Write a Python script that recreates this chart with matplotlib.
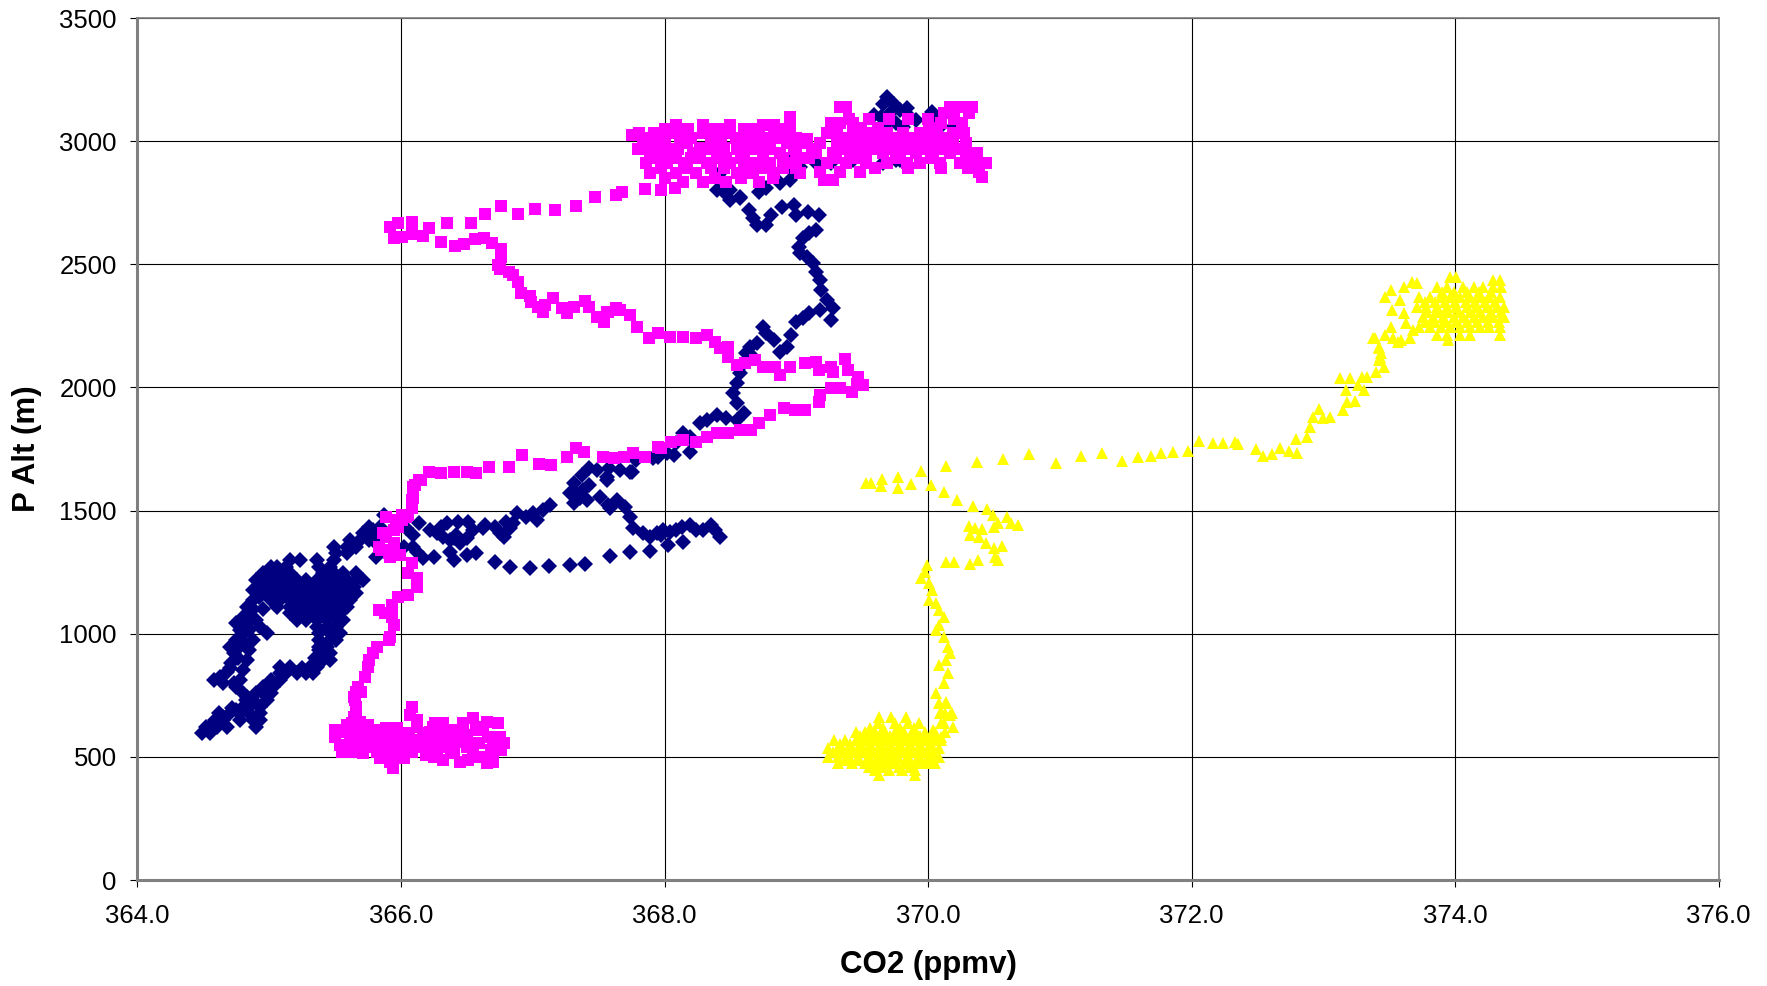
import matplotlib.pyplot as plt

plt.rcParams['font.family'] = ['Liberation Sans', 'DejaVu Sans']

# CO2 (ppmv), pressure altitude (m), one list per profile
navy = [
    # lower-left blob
    (364.49, 596), (364.52, 623), (364.55, 596), (364.55, 623), (364.59, 650), (364.60, 623),
    (364.65, 663), (364.65, 650), (364.68, 623), (364.70, 677), (364.75, 690), (364.78, 677),
    (364.78, 650), (364.80, 704), (364.85, 704), (364.85, 677), (364.88, 650), (364.90, 623),
    (364.93, 677), (364.93, 650), (364.93, 704), (364.88, 731), (364.98, 731), (364.90, 758),
    (364.95, 758), (365.01, 758), (364.95, 785), (365.01, 785), (365.03, 785), (365.01, 812),
    (365.08, 812), (365.08, 839), (365.13, 839), (365.21, 839), (365.28, 839), (365.33, 839),
    (365.08, 866), (365.16, 866), (365.31, 866), (365.36, 866), (365.41, 893), (365.46, 893),
    (365.41, 920), (365.46, 920), (365.38, 934), (365.44, 947), (365.38, 947), (365.38, 974),
    (365.46, 974), (365.51, 974), (365.38, 1002), (365.46, 1002), (365.54, 1002),
    (364.58, 812), (364.63, 826), (364.68, 846), (364.71, 880), (364.73, 920), (364.70, 947),
    (364.75, 974), (364.78, 1015), (364.75, 1042), (364.80, 1069), (364.85, 1083), (364.83, 1110),
    (364.88, 1137), (364.88, 1178), (364.93, 1205), (364.98, 1245), (365.01, 1272),
    (364.78, 812), (364.80, 853), (364.83, 893), (364.85, 934), (364.88, 974), (364.85, 1015),
    (364.93, 1029), (364.98, 1002), (364.90, 1056), (364.75, 785), (364.80, 758), (364.73, 800),
    (364.83, 744),
    (364.65, 800), (364.70, 860), (364.76, 900), (364.78, 950), (364.80, 1000), (364.83, 1040),
    (364.88, 1100), (364.92, 1150), (364.95, 1100), (364.82, 960), (364.62, 680), (364.72, 700),
    (364.82, 730), (364.98, 760), (365.25, 860), (365.40, 960), (365.50, 1000), (365.35, 900),
    (365.06, 1272), (365.13, 1272), (365.38, 1272), (365.46, 1272),
    (365.16, 1299), (365.23, 1299), (365.36, 1299), (365.49, 1299),
    (365.51, 1326), (365.59, 1326), (365.49, 1353), (365.59, 1353), (365.66, 1353),
    (365.61, 1380), (365.69, 1380), (365.76, 1380), (365.71, 1408), (365.79, 1408),
    (365.76, 1435), (365.84, 1435),
    (364.95, 1245), (365.03, 1245), (365.11, 1245), (365.16, 1245), (365.41, 1245),
    (365.49, 1245), (365.56, 1245), (365.66, 1245),
    (364.90, 1218), (364.98, 1218), (365.06, 1218), (365.13, 1218), (365.21, 1218), (365.28, 1218),
    (365.36, 1218), (365.44, 1218), (365.51, 1218), (365.59, 1218), (365.66, 1218), (365.71, 1218),
    (364.95, 1191), (365.03, 1191), (365.11, 1191), (365.18, 1191), (365.26, 1191), (365.33, 1191),
    (365.41, 1191), (365.49, 1191), (365.56, 1191), (365.64, 1191),
    (364.98, 1164), (365.06, 1164), (365.13, 1164), (365.21, 1164), (365.28, 1164), (365.36, 1164),
    (365.44, 1164), (365.51, 1164), (365.59, 1164), (365.66, 1164),
    (365.01, 1137), (365.08, 1137), (365.16, 1137), (365.23, 1137), (365.31, 1137), (365.38, 1137),
    (365.46, 1137), (365.54, 1137), (365.61, 1137),
    (365.06, 1110), (365.16, 1110), (365.21, 1110), (365.28, 1110), (365.36, 1110), (365.44, 1110),
    (365.51, 1110), (365.59, 1110),
    (365.16, 1083), (365.23, 1083), (365.31, 1083), (365.38, 1083), (365.46, 1083), (365.54, 1083),
    (365.21, 1056), (365.28, 1056), (365.36, 1056), (365.44, 1056), (365.51, 1056), (365.56, 1056),
    (365.36, 1029), (365.44, 1029), (365.51, 1029),
    # the loops around 1300-1500 m
    (365.87, 1482), (365.79, 1421), (365.79, 1380), (365.81, 1313),
    (366.04, 1428), (366.14, 1448), (366.22, 1421), (366.30, 1435), (366.35, 1448), (366.43, 1455),
    (366.51, 1455), (366.55, 1421), (366.64, 1441), (366.71, 1435), (366.80, 1455), (366.88, 1489),
    (366.95, 1475), (367.00, 1489), (367.03, 1462), (367.08, 1502), (367.13, 1523),
    (366.09, 1401), (366.27, 1408), (366.32, 1394), (366.40, 1387), (366.45, 1367), (366.50, 1387),
    (366.37, 1380), (366.42, 1401), (366.62, 1428), (366.75, 1408), (366.78, 1394), (366.83, 1428),
    (366.85, 1448),
    (366.02, 1353), (366.09, 1353), (366.12, 1333), (366.17, 1306), (366.25, 1313), (366.37, 1333),
    (366.40, 1299), (366.50, 1320), (366.57, 1326),
    (366.71, 1292), (366.83, 1272), (366.98, 1265), (367.12, 1275), (367.28, 1279), (367.40, 1283),
    (367.59, 1316), (367.74, 1333), (367.89, 1337), (368.03, 1360), (368.14, 1374),
    (367.76, 1428), (367.84, 1408), (367.89, 1394), (367.94, 1408), (367.97, 1401), (367.99, 1421),
    (368.04, 1414), (368.09, 1421), (368.13, 1435), (368.19, 1441), (368.24, 1421), (368.29, 1421),
    (368.35, 1441), (368.38, 1421), (368.42, 1394),
    (367.51, 1556), (367.57, 1523), (367.64, 1543), (367.70, 1516), (367.74, 1475), (367.59, 1509),
    (367.31, 1611), (367.33, 1570), (367.31, 1529), (367.38, 1584), (367.43, 1604), (367.41, 1543),
    (367.36, 1550), (367.28, 1570), (367.56, 1624), (367.37, 1644), (367.43, 1671), (367.49, 1665),
    (367.58, 1671), (367.66, 1665), (367.75, 1658), (367.78, 1705), (367.95, 1719), (368.07, 1726),
    (368.19, 1739),
    # climb to the top
    (367.56, 1638), (367.74, 1658), (367.91, 1712), (368.02, 1732), (368.09, 1773), (368.14, 1814),
    (368.19, 1800), (368.27, 1854), (368.32, 1868), (368.40, 1888), (368.47, 1874), (368.55, 1868),
    (368.60, 1895), (368.55, 1935), (368.52, 1976), (368.55, 2017), (368.57, 2057), (368.60, 2098),
    (368.62, 2138), (368.65, 2165), (368.70, 2179), (368.67, 2125), (368.75, 2247), (368.77, 2220),
    (368.83, 2193), (368.88, 2145), (368.93, 2165), (368.96, 2213), (369.00, 2267), (369.05, 2281),
    (369.10, 2301), (369.18, 2314), (369.26, 2274), (369.28, 2321), (369.23, 2355), (369.19, 2396),
    (369.18, 2436), (369.15, 2470), (369.13, 2504), (369.08, 2531), (369.03, 2544), (369.02, 2571),
    (369.05, 2605), (369.10, 2626), (369.15, 2639), (369.17, 2700), (369.09, 2714), (369.00, 2700),
    (368.98, 2741), (368.89, 2734), (368.81, 2700), (368.77, 2659), (368.70, 2659), (368.67, 2687),
    (368.64, 2720), (368.57, 2768), (368.50, 2761), (368.45, 2795), (368.40, 2802), (368.41, 2856),
    (368.42, 2869), (368.50, 2802), (368.57, 2775), (368.72, 2795), (368.77, 2808), (368.88, 2829),
    (368.95, 2842), (368.98, 2883), (368.95, 2923), (369.03, 2896), (369.15, 2910), (369.26, 2910),
    (369.43, 2923), (369.66, 2910), (369.76, 2923), (369.79, 2923),
    # top blob
    (369.69, 3181), (369.66, 3153), (369.74, 3153), (369.59, 3106), (369.64, 3099), (369.71, 3113),
    (369.79, 3126), (369.84, 3133), (369.86, 3099), (369.69, 3072), (369.76, 3072), (369.64, 3059),
    (369.81, 3059), (369.91, 3086), (370.03, 3120), (370.07, 3086), (370.09, 3059), (370.19, 3059),
]

magenta = [
    # bottom cluster
    (365.66, 765), (365.70, 765), (365.65, 731), (365.66, 690), (365.65, 656), (365.69, 643),
    (365.50, 609), (365.50, 582), (365.54, 548), (365.55, 521), (365.59, 629), (365.63, 595),
    (365.61, 555), (365.64, 521), (365.69, 609), (365.71, 568), (365.71, 514), (365.75, 629),
    (365.76, 582), (365.75, 541), (365.59, 528), (365.66, 568),
    (365.82, 609), (365.83, 568), (365.82, 521), (365.84, 494), (365.89, 616), (365.89, 568),
    (365.90, 521), (365.92, 480), (365.94, 453), (365.97, 616), (365.98, 568), (365.99, 521),
    (366.02, 494), (366.06, 595), (366.06, 548), (366.08, 521), (366.12, 623), (366.12, 568),
    (366.08, 704), (366.07, 670), (366.12, 650),
    (366.17, 595), (366.18, 548), (366.19, 507), (366.24, 623), (366.26, 575), (366.27, 528),
    (366.26, 636), (366.32, 636), (366.33, 589), (366.33, 541), (366.32, 487), (366.40, 609),
    (366.41, 562), (366.40, 514), (366.45, 480), (366.47, 636), (366.50, 589), (366.50, 541),
    (366.51, 487), (366.55, 656), (366.57, 609), (366.59, 555), (366.60, 501), (366.65, 474),
    (366.65, 643), (366.66, 582), (366.68, 528), (366.74, 636), (366.75, 582), (366.76, 528),
    (366.70, 480), (366.78, 555),
    (365.58, 600), (365.80, 590), (365.95, 590), (366.05, 570), (366.22, 600), (366.37, 575),
    (366.45, 610), (366.62, 620), (366.70, 560), (366.55, 520), (366.38, 520), (366.25, 500),
    (365.95, 500), (365.80, 540), (365.68, 540), (366.10, 540), (366.65, 500),
    # climb near 366
    (365.63, 636), (365.64, 663), (365.66, 704), (365.64, 744), (365.67, 785), (365.73, 826),
    (365.75, 866), (365.76, 893), (365.79, 920), (365.82, 947), (365.91, 975), (365.92, 988),
    (365.95, 1035), (365.93, 1069), (365.88, 1083), (365.83, 1096), (365.93, 1117), (365.98, 1150),
    (366.05, 1157), (366.12, 1191), (366.12, 1225), (366.05, 1245), (366.08, 1286), (365.99, 1320),
    (365.91, 1326), (365.85, 1340), (365.89, 1394), (365.95, 1421), (365.98, 1455), (366.04, 1475),
    (365.89, 1475), (365.96, 1462), (365.86, 1408), (365.83, 1353), (365.89, 1340), (365.95, 1367),
    (365.92, 1313), (365.98, 1435), (366.01, 1482),
    (366.08, 1509), (366.08, 1543), (366.09, 1597), (366.14, 1624), (366.01, 1462), (366.05, 1482),
    (366.08, 1516), (366.09, 1550), (366.09, 1577), (366.11, 1604), (366.15, 1624),
    # line towards 369.5 at 2000 m
    (366.21, 1658), (366.30, 1654), (366.40, 1658), (366.50, 1658), (366.57, 1651), (366.67, 1676),
    (366.82, 1676), (366.92, 1726), (367.05, 1689), (367.14, 1685), (367.26, 1719), (367.33, 1753),
    (367.39, 1739), (367.53, 1719), (367.62, 1712), (367.69, 1719), (367.76, 1732), (367.85, 1719),
    (367.95, 1759), (367.97, 1753), (368.05, 1780), (368.14, 1786), (368.24, 1780), (368.32, 1800),
    (368.40, 1814), (368.48, 1814), (368.57, 1827), (368.66, 1827), (368.72, 1854), (368.80, 1888),
    (368.91, 1915), (368.99, 1908), (369.07, 1908), (369.17, 1942), (369.18, 1969), (369.26, 1996),
    (369.33, 1996), (369.42, 1983), (369.46, 2016), (369.51, 2010), (369.47, 2044),
    # back to the left near 2100-2600 m
    (369.39, 2071), (369.37, 2114), (369.28, 2064), (369.26, 2084), (369.17, 2071), (369.15, 2104),
    (369.07, 2098), (368.95, 2084), (368.88, 2050), (368.84, 2084), (368.75, 2084), (368.69, 2111),
    (368.61, 2098), (368.55, 2091), (368.48, 2125), (368.48, 2165), (368.42, 2159), (368.38, 2186),
    (368.32, 2213), (368.24, 2199), (368.14, 2206), (368.04, 2206), (367.95, 2220), (367.88, 2199),
    (367.79, 2247), (367.74, 2294), (367.66, 2314), (367.56, 2308),
    (367.54, 2267), (367.49, 2285), (367.57, 2307), (367.63, 2321), (367.43, 2328), (367.40, 2352),
    (367.31, 2325), (367.26, 2303), (367.22, 2321), (367.15, 2362), (367.09, 2335), (367.08, 2308),
    (367.04, 2328), (366.99, 2348), (366.98, 2371), (366.91, 2382), (366.89, 2429), (366.85, 2456),
    (366.82, 2470), (366.75, 2479), (366.74, 2497), (366.76, 2531), (366.76, 2561), (366.69, 2588),
    (366.63, 2605), (366.56, 2601), (366.48, 2582), (366.41, 2576), (366.30, 2592), (366.17, 2615),
    (366.08, 2623), (366.01, 2609), (365.95, 2605),
    # up to the top cluster
    (365.92, 2653), (365.98, 2666), (366.08, 2673), (366.21, 2646), (366.35, 2666), (366.53, 2669),
    (366.64, 2703), (366.76, 2738), (366.89, 2703), (367.02, 2724), (367.17, 2720), (367.33, 2738),
    (367.47, 2772), (367.63, 2781), (367.68, 2795), (367.85, 2804), (367.97, 2802), (368.08, 2811),
    # top cluster
    (367.75, 3025), (367.81, 3032), (367.92, 3032), (368.09, 3032), (368.29, 3032), (368.50, 3032),
    (368.72, 3032), (368.83, 3032), (368.95, 3032),
    (367.86, 2991), (367.99, 2991), (368.17, 2991), (368.37, 2991), (368.55, 2991), (368.65, 2991),
    (368.78, 2991), (368.93, 2991), (369.05, 2991),
    (367.89, 2950), (368.04, 2950), (368.22, 2950), (368.42, 2950), (368.60, 2950), (368.75, 2950),
    (368.88, 2950), (369.00, 2950), (369.13, 2950),
    (367.86, 2910), (368.02, 2910), (368.17, 2910), (368.32, 2910), (368.50, 2910), (368.67, 2910),
    (368.80, 2910), (368.98, 2910),
    (367.89, 2869), (368.09, 2869), (368.24, 2869), (368.55, 2869), (368.67, 2869), (368.83, 2869),
    (369.03, 2869), (368.14, 2835), (368.29, 2835), (368.47, 2835), (368.72, 2835),
    (368.09, 3066), (368.29, 3066), (368.50, 3066), (368.75, 3066), (368.83, 3066), (368.95, 3066),
    (368.95, 3099),
    (367.95, 3010), (368.03, 2970), (368.12, 3012), (368.20, 2930), (368.27, 2972), (368.35, 3010),
    (368.40, 2930), (368.45, 2972), (368.62, 3012), (368.70, 2970), (368.86, 3012), (368.90, 2930),
    (369.08, 3010), (369.10, 2930), (368.38, 3050), (368.60, 3050), (368.90, 2890), (368.35, 2890),
    (367.84, 3012), (368.00, 3012), (368.20, 3012), (368.43, 3012), (368.54, 3012), (368.70, 3012),
    (368.78, 3012), (369.00, 3012), (367.80, 2970), (367.95, 2970), (368.10, 2970), (368.35, 2970),
    (368.55, 2970), (368.62, 2970), (368.80, 2970), (368.98, 2970), (369.12, 2970), (367.95, 2930),
    (368.09, 2930), (368.27, 2930), (368.47, 2930), (368.58, 2930), (368.75, 2930), (369.03, 2930),
    (368.00, 3050), (368.18, 3050), (368.45, 3050), (368.68, 3050), (368.88, 3050), (367.97, 2890),
    (368.15, 2890), (368.45, 2890), (368.60, 2890), (368.75, 2890), (369.00, 2890), (368.00, 2850),
    (368.38, 2850), (368.58, 2850), (368.82, 2850),
    (369.33, 3140), (369.38, 3140), (370.17, 3140), (370.24, 3140), (370.33, 3140), (370.12, 3113),
    (370.31, 3113), (369.26, 3072), (369.33, 3072), (369.43, 3072), (370.10, 3072), (370.26, 3072),
    (369.23, 3032), (369.31, 3032), (369.43, 3032), (369.56, 3032), (369.69, 3032), (369.81, 3032),
    (369.94, 3032), (370.07, 3032), (370.19, 3032), (370.27, 3032),
    (369.18, 2991), (369.31, 2991), (369.43, 2991), (369.56, 2991), (369.69, 2991), (369.81, 2991),
    (369.94, 2991), (370.07, 2991), (370.19, 2991), (370.29, 2991),
    (369.15, 2950), (369.28, 2950), (369.41, 2950), (369.53, 2950), (369.66, 2950), (369.79, 2950),
    (369.91, 2950), (370.04, 2950), (370.17, 2950), (370.29, 2950), (370.37, 2950),
    (369.23, 2910), (369.38, 2910), (369.53, 2910), (369.69, 2910), (369.84, 2910), (369.94, 2910),
    (370.09, 2910), (370.24, 2910), (370.39, 2910), (370.44, 2910),
    (369.18, 2876), (369.33, 2876), (369.48, 2876), (370.39, 2876), (370.41, 2856), (369.21, 2842),
    (369.28, 2842),
    (369.37, 3012), (369.50, 3012), (369.62, 3012), (369.75, 3012), (369.88, 3012), (370.00, 3012),
    (370.13, 3012), (369.35, 2970), (369.47, 2970), (369.60, 2970), (369.73, 2970), (369.86, 2970),
    (369.98, 2970), (370.11, 2970), (370.23, 2970), (370.33, 2930), (370.02, 2930), (369.76, 2930),
    (369.46, 2930), (369.30, 2930), (369.49, 3052), (369.62, 3052), (370.01, 3052),
    (369.40, 3090), (369.55, 3090), (369.70, 3090), (369.85, 3090), (370.00, 3090), (370.20, 3090),
    (369.60, 2890), (369.85, 2890), (370.10, 2890), (370.30, 2890),
]

yellow = [
    # bottom cluster
    (369.63, 663), (369.72, 663), (369.83, 663), (369.62, 636), (369.75, 636), (369.85, 636),
    (369.93, 636), (370.10, 636), (370.09, 677), (370.13, 677), (370.18, 677), (370.08, 717),
    (370.14, 717),
    (369.45, 602), (369.52, 602), (369.60, 602), (369.67, 602), (369.75, 602), (369.82, 602),
    (369.90, 602), (369.98, 602), (370.05, 602), (370.13, 602),
    (369.29, 569), (369.37, 569), (369.45, 569), (369.52, 569), (369.60, 569), (369.67, 569),
    (369.75, 569), (369.82, 569), (369.90, 569), (369.98, 569), (370.05, 569), (370.10, 569),
    (369.24, 535), (369.32, 535), (369.40, 535), (369.47, 535), (369.55, 535), (369.62, 535),
    (369.70, 535), (369.77, 535), (369.85, 535), (369.93, 535), (370.00, 535), (370.08, 535),
    (369.24, 501), (369.32, 501), (369.40, 501), (369.47, 501), (369.55, 501), (369.62, 501),
    (369.70, 501), (369.77, 501), (369.85, 501), (369.93, 501), (370.00, 501), (370.08, 501),
    (369.32, 474), (369.42, 474), (369.52, 474), (369.60, 474), (369.67, 474), (369.75, 474),
    (369.82, 474), (369.90, 474), (369.98, 474), (370.05, 474),
    (369.60, 447), (369.70, 447), (369.80, 447), (369.90, 447), (369.63, 426), (369.90, 426),
    (369.28, 518), (369.36, 518), (369.44, 518), (369.51, 518), (369.59, 518), (369.66, 518),
    (369.74, 518), (369.81, 518), (369.89, 518), (369.96, 518), (370.04, 518),
    (369.33, 552), (369.41, 552), (369.49, 552), (369.56, 552), (369.64, 552), (369.71, 552),
    (369.79, 552), (369.86, 552), (369.94, 552), (370.02, 552),
    (369.48, 585), (369.56, 585), (369.64, 585), (369.71, 585), (369.79, 585), (369.86, 585),
    (369.94, 585), (370.02, 585), (369.56, 619), (369.66, 619), (369.79, 619), (369.89, 619),
    (369.37, 488), (369.47, 488), (369.57, 488), (369.65, 488), (369.73, 488), (369.86, 488),
    (369.95, 488), (370.03, 488), (369.55, 460), (369.65, 460), (369.78, 460), (369.86, 460),
    # column near 370
    (370.10, 582), (370.04, 609), (370.19, 623), (370.12, 636), (370.17, 670), (370.10, 684),
    (370.14, 724), (370.06, 758), (370.12, 799), (370.15, 839), (370.08, 873), (370.14, 893),
    (370.17, 920), (370.15, 947), (370.12, 988), (370.06, 1015), (370.08, 1035), (370.12, 1069),
    (370.08, 1096), (370.06, 1123), (370.01, 1137), (370.03, 1178), (370.01, 1205), (369.95, 1225),
    (369.98, 1252), (369.99, 1279),
    # zigzag to the right and back
    (370.14, 1290), (370.20, 1291), (370.32, 1283), (370.38, 1299), (370.53, 1299), (370.51, 1313),
    (370.56, 1356), (370.50, 1349), (370.44, 1367), (370.39, 1391), (370.32, 1401), (370.31, 1437),
    (370.36, 1428), (370.41, 1424), (370.50, 1435), (370.53, 1451), (370.68, 1441), (370.63, 1448),
    (370.60, 1475), (370.49, 1482), (370.45, 1506), (370.34, 1520), (370.22, 1543), (370.12, 1574),
    (370.02, 1604), (369.87, 1607), (369.77, 1593), (369.64, 1600), (369.53, 1611), (369.57, 1611),
    (369.65, 1627), (369.77, 1638), (369.95, 1662), (370.14, 1682), (370.37, 1696), (370.57, 1709),
    # long leg to 373
    (370.77, 1730), (370.97, 1695), (371.16, 1722), (371.32, 1732), (371.47, 1703), (371.59, 1716),
    (371.69, 1722), (371.77, 1735), (371.86, 1736), (371.97, 1742), (372.06, 1784), (372.16, 1773),
    (372.24, 1773), (372.33, 1780), (372.35, 1770), (372.49, 1751), (372.54, 1722), (372.61, 1730),
    (372.67, 1754), (372.74, 1743), (372.80, 1735), (372.79, 1789), (372.88, 1797), (372.90, 1841),
    (372.92, 1881), (372.97, 1911), (373.00, 1875), (373.05, 1881), (373.15, 1908), (373.18, 1942),
    (373.24, 1946), (373.17, 1990), (373.13, 2037), (373.20, 2037), (373.26, 2010), (373.29, 2044),
    (373.31, 1990), (373.33, 2044), (373.40, 2064), (373.42, 2111), (373.46, 2084), (373.38, 2199),
    (373.42, 2165), (373.44, 2138), (373.47, 2213), (373.53, 2199), (373.57, 2186),
    # top cluster
    (373.39, 2199), (373.42, 2159), (373.43, 2125), (373.51, 2247), (373.59, 2193), (373.66, 2199),
    (373.47, 2368), (373.51, 2396), (373.52, 2314), (373.61, 2409), (373.67, 2429), (373.71, 2423),
    (373.58, 2355), (373.61, 2301), (373.63, 2260), (373.68, 2233),
    (373.96, 2450), (374.01, 2450), (374.29, 2436), (374.34, 2436),
    (373.86, 2409), (373.94, 2409), (374.06, 2409), (374.14, 2409), (374.21, 2409), (374.29, 2409),
    (374.35, 2409),
    (373.73, 2369), (373.81, 2369), (373.89, 2369), (373.96, 2369), (374.04, 2369), (374.11, 2369),
    (374.19, 2369), (374.26, 2369), (374.34, 2369),
    (373.71, 2328), (373.78, 2328), (373.86, 2328), (373.94, 2328), (374.01, 2328), (374.09, 2328),
    (374.16, 2328), (374.24, 2328), (374.32, 2328), (374.37, 2328),
    (373.76, 2287), (373.83, 2287), (373.91, 2287), (373.99, 2287), (374.06, 2287), (374.14, 2287),
    (374.21, 2287), (374.29, 2287), (374.37, 2287),
    (373.73, 2247), (373.81, 2247), (373.89, 2247), (373.96, 2247), (374.04, 2247), (374.11, 2247),
    (374.19, 2247), (374.26, 2247), (374.34, 2247),
    (373.86, 2213), (373.94, 2213), (374.04, 2213), (374.11, 2213), (374.34, 2213), (373.95, 2193),
    (373.77, 2348), (373.85, 2348), (373.92, 2348), (374.00, 2348), (374.08, 2348), (374.15, 2348),
    (374.23, 2348), (374.30, 2348), (373.79, 2308), (373.87, 2308), (373.95, 2308), (374.03, 2308),
    (374.11, 2308), (374.19, 2308), (374.27, 2308), (374.35, 2308), (373.77, 2267), (373.85, 2267),
    (373.93, 2267), (374.01, 2267), (374.09, 2267), (374.17, 2267), (374.25, 2267), (374.33, 2267),
    (373.90, 2389), (373.99, 2389), (374.09, 2389), (374.18, 2389), (374.27, 2389),
]

x_ticks = [364.0, 366.0, 368.0, 370.0, 372.0, 374.0, 376.0]
y_ticks = [0, 500, 1000, 1500, 2000, 2500, 3000, 3500]

fig = plt.figure(figsize=(17.67, 9.86), dpi=100)
ax = fig.add_axes([0.0778, 0.1075, 0.8948, 0.8742])

# same drawing order as the original series
for pts, marker, colour, size in [(navy, 'D', '#000080', 8.4),
                                  (magenta, 's', '#FF00FF', 8.2),
                                  (yellow, '^', '#FFFF00', 9.2)]:
    xs, ys = zip(*pts)
    ax.plot(xs, ys, linestyle='none', marker=marker, color=colour,
            markersize=size, markeredgewidth=0)

ax.set_xlim(364, 376)
ax.set_ylim(0, 3500)
ax.set_xticks(x_ticks)
ax.set_xticklabels([f'{v:.1f}' for v in x_ticks])
ax.set_yticks(y_ticks)
ax.set_yticklabels([str(v) for v in y_ticks])
ax.tick_params(direction='out', length=5, width=0.8, labelsize=18.5)
ax.tick_params(axis='x', pad=12)
ax.tick_params(axis='y', pad=10)

ax.grid(True, color='black', linewidth=0.8)
ax.set_axisbelow(True)
for side in ['left', 'bottom']:
    ax.spines[side].set_color('#808080')
    ax.spines[side].set_linewidth(2.2)
for side in ['top', 'right']:
    ax.spines[side].set_color('#808080')
    ax.spines[side].set_linewidth(1.2)

ax.set_xlabel('CO2 (ppmv)', fontsize=22.5, fontweight='bold', labelpad=16)
ax.set_ylabel('P Alt (m)', fontsize=22.5, fontweight='bold', labelpad=12)

fig.savefig('out.png', dpi=100)
